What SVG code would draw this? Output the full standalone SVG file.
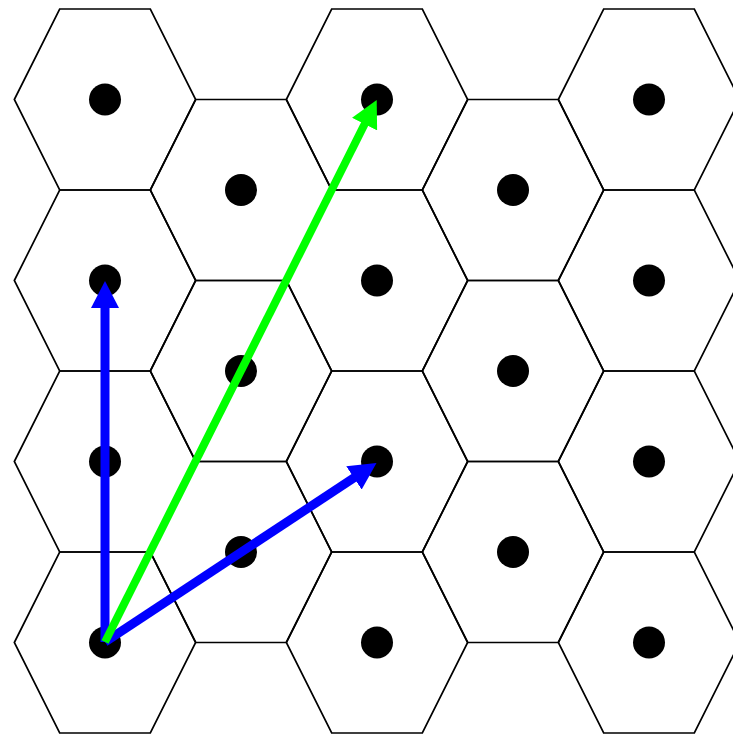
<svg xmlns="http://www.w3.org/2000/svg" xmlns:xlink="http://www.w3.org/1999/xlink" width="733" height="734" viewBox="0 0 733 734">
<style>
.cell{fill:none;stroke:#000;stroke-width:1.7;stroke-linejoin:miter}
.dot{fill:#000}
.vb{stroke:#0000ff;stroke-width:9;fill:none}
.vg{stroke:#00ff00;stroke-width:8;fill:none}
</style>
<defs>
<polygon id="hex" points="-90.67,0 -45.33,-90.5 45.33,-90.5 90.67,0 45.33,90.5 -45.33,90.5"/>
<marker id="ab" viewBox="0 0 27 28" refX="1" refY="14" markerWidth="27" markerHeight="28" markerUnits="userSpaceOnUse" orient="auto">
<path d="M0,0 L27,14 L0,28 z" fill="#0000ff"/>
</marker>
<marker id="ag" viewBox="0 0 27 28" refX="1" refY="14" markerWidth="27" markerHeight="28" markerUnits="userSpaceOnUse" orient="auto">
<path d="M0,0 L27,14 L0,28 z" fill="#00ff00"/>
</marker>
</defs>
<rect width="733" height="734" fill="#fff"/>
<g id="cells" class="cell">
<use xlink:href="#hex" href="#hex" x="105" y="99.5"/>
<use xlink:href="#hex" href="#hex" x="105" y="280.5"/>
<use xlink:href="#hex" href="#hex" x="105" y="461.5"/>
<use xlink:href="#hex" href="#hex" x="105" y="642.5"/>
<use xlink:href="#hex" href="#hex" x="241" y="190"/>
<use xlink:href="#hex" href="#hex" x="241" y="371"/>
<use xlink:href="#hex" href="#hex" x="241" y="552"/>
<use xlink:href="#hex" href="#hex" x="377" y="99.5"/>
<use xlink:href="#hex" href="#hex" x="377" y="280.5"/>
<use xlink:href="#hex" href="#hex" x="377" y="461.5"/>
<use xlink:href="#hex" href="#hex" x="377" y="642.5"/>
<use xlink:href="#hex" href="#hex" x="513" y="190"/>
<use xlink:href="#hex" href="#hex" x="513" y="371"/>
<use xlink:href="#hex" href="#hex" x="513" y="552"/>
<use xlink:href="#hex" href="#hex" x="649" y="99.5"/>
<use xlink:href="#hex" href="#hex" x="649" y="280.5"/>
<use xlink:href="#hex" href="#hex" x="649" y="461.5"/>
<use xlink:href="#hex" href="#hex" x="649" y="642.5"/>
</g>
<g id="points" class="dot">
<circle cx="105" cy="99.5" r="16"/>
<circle cx="105" cy="280.5" r="16"/>
<circle cx="105" cy="461.5" r="16"/>
<circle cx="105" cy="642.5" r="16"/>
<circle cx="241" cy="190" r="16"/>
<circle cx="241" cy="371" r="16"/>
<circle cx="241" cy="552" r="16"/>
<circle cx="377" cy="99.5" r="16"/>
<circle cx="377" cy="280.5" r="16"/>
<circle cx="377" cy="461.5" r="16"/>
<circle cx="377" cy="642.5" r="16"/>
<circle cx="513" cy="190" r="16"/>
<circle cx="513" cy="371" r="16"/>
<circle cx="513" cy="552" r="16"/>
<circle cx="649" cy="99.5" r="16"/>
<circle cx="649" cy="280.5" r="16"/>
<circle cx="649" cy="461.5" r="16"/>
<circle cx="649" cy="642.5" r="16"/>
</g>
<g id="connectors">
<line id="v1" class="vb" x1="105" y1="642" x2="105" y2="307" marker-end="url(#ab)"/>
<line id="v2" class="vb" x1="105" y1="642" x2="354.8" y2="477.3" marker-end="url(#ab)"/>
<line id="v3" class="vg" x1="105" y1="642" x2="365.05" y2="123.24" marker-end="url(#ag)"/>
</g>
</svg>
